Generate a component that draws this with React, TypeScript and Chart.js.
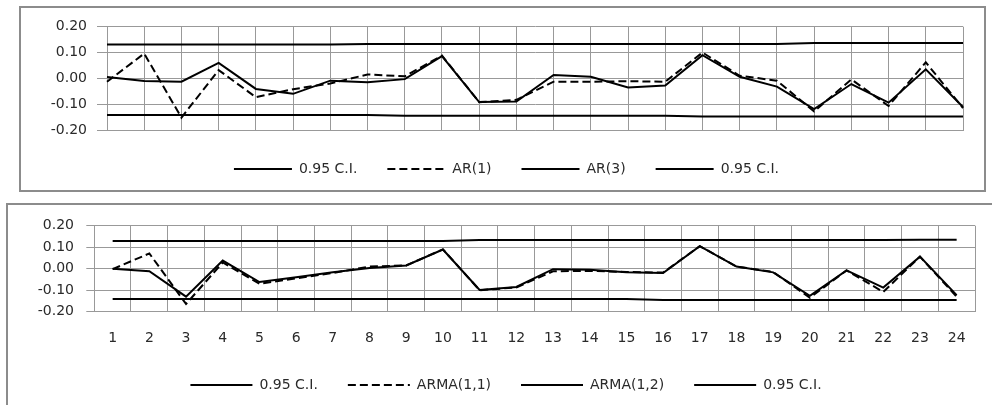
import React, { useEffect, useRef } from 'react';
import { Chart, registerables } from 'chart.js';

Chart.register(...registerables);

// ---------- data ----------
const lags = ['1','2','3','4','5','6','7','8','9','10','11','12','13','14','15','16','17','18','19','20','21','22','23','24'];

const topCiUpper = [0.131,0.131,0.131,0.131,0.131,0.131,0.131,0.133,0.133,0.133,0.133,0.133,0.133,0.133,0.133,0.133,0.133,0.133,0.133,0.137,0.137,0.137,0.137,0.137];
const topAr1 = [-0.013,0.096,-0.152,0.032,-0.073,-0.042,-0.02,0.015,0.008,0.088,-0.092,-0.083,-0.013,-0.013,-0.011,-0.013,0.1,0.01,-0.009,-0.128,-0.004,-0.107,0.062,-0.115];
const topAr3 = [0.005,-0.01,-0.013,0.06,-0.041,-0.06,-0.009,-0.015,-0.003,0.086,-0.092,-0.09,0.013,0.006,-0.035,-0.028,0.09,0.006,-0.032,-0.119,-0.022,-0.094,0.035,-0.111];
const topCiLower = [-0.142,-0.142,-0.142,-0.142,-0.142,-0.142,-0.142,-0.142,-0.145,-0.145,-0.145,-0.145,-0.145,-0.145,-0.145,-0.145,-0.148,-0.148,-0.148,-0.148,-0.148,-0.148,-0.148,-0.148];

const botCiUpper = [0.129,0.129,0.129,0.129,0.129,0.129,0.129,0.129,0.129,0.129,0.133,0.133,0.133,0.133,0.133,0.133,0.133,0.133,0.133,0.133,0.133,0.133,0.135,0.135];
const botArma11 = [-0.002,0.071,-0.164,0.029,-0.07,-0.045,-0.02,0.01,0.015,0.09,-0.1,-0.087,-0.012,-0.01,-0.015,-0.018,0.105,0.01,-0.015,-0.135,-0.008,-0.108,0.056,-0.13];
const botArma12 = [0.0,-0.012,-0.13,0.038,-0.062,-0.04,-0.017,0.003,0.015,0.089,-0.099,-0.085,-0.002,-0.005,-0.017,-0.02,0.105,0.01,-0.017,-0.126,-0.008,-0.088,0.056,-0.123];
const botCiLower = [-0.141,-0.141,-0.141,-0.141,-0.141,-0.141,-0.141,-0.141,-0.141,-0.141,-0.141,-0.141,-0.141,-0.141,-0.141,-0.145,-0.145,-0.145,-0.145,-0.145,-0.145,-0.145,-0.145,-0.145];

const topLabels = ['0.95 C.I.', 'AR(1)', 'AR(3)', '0.95 C.I.'];
const botLabels = ['0.95 C.I.', 'ARMA(1,1)', 'ARMA(1,2)', '0.95 C.I.'];

const yMin = -0.2;
const yMax = 0.2;
const yStep = 0.1;

// ---------- styling ----------
const FONT = "'DejaVu Sans', sans-serif";
const FSIZE = 14;
const TEXT = '#2a2a2a';
const GRID = '#999999';
const LINE = '#000000';

function makeDatasets(labels: string[], series: number[][], dashed: boolean[]) {
  return series.map((data, i) => ({
    label: labels[i],
    data: data.slice(),
    borderColor: LINE,
    backgroundColor: LINE,
    borderWidth: 2,
    borderDash: dashed[i] ? [8, 4] : [],
    pointRadius: 0,
    tension: 0,
    fill: false,
  }));
}

function legendLabels(chart: any) {
  const items = Chart.defaults.plugins.legend.labels.generateLabels(chart);
  return items.map((it: any) => {
    const ds = chart.data.datasets[it.datasetIndex];
    return { ...it, lineDash: ds.borderDash || [], lineWidth: 2, strokeStyle: LINE, fillStyle: LINE, pointStyle: 'line' };
  });
}

type Cfg = {
  which: 'top' | 'bot';
  showX: boolean;
  padding: { left: number; right: number; top: number; bottom: number };
  yWidth: number;
  xHeight: number;
  tickLength: number;
  yTickPad: number;
  xTickPad: number;
  legendPad: number;
  legendLine: number;
};

function buildConfig(c: Cfg): any {
  const datasets =
    c.which === 'top'
      ? makeDatasets(topLabels, [topCiUpper, topAr1, topAr3, topCiLower], [false, true, false, false])
      : makeDatasets(botLabels, [botCiUpper, botArma11, botArma12, botCiLower], [false, true, false, false]);
  const x: any = {
    type: 'category',
    offset: c.showX,
    grid: { display: true, color: GRID, lineWidth: 1, drawTicks: false, offset: c.showX },
    border: { display: true, color: GRID, width: 1 },
    ticks: { display: c.showX, color: TEXT, font: { family: FONT, size: FSIZE }, padding: c.xTickPad, maxRotation: 0, autoSkip: false },
    afterFit(s: any) { s.height = c.xHeight; },
  };
  const y: any = {
    type: 'linear',
    min: yMin,
    max: yMax,
    grid: { display: true, color: GRID, lineWidth: 1, drawTicks: true, tickLength: c.tickLength, tickColor: GRID },
    border: { display: true, color: GRID, width: 1 },
    ticks: {
      stepSize: yStep,
      color: TEXT,
      font: { family: FONT, size: FSIZE },
      padding: c.yTickPad,
      callback: (v: any) => (Math.abs(Number(v)) < 1e-9 ? '0.00' : Number(v).toFixed(2)),
    },
    afterFit(s: any) { s.width = c.yWidth; },
  };
  return {
    type: 'line',
    data: { labels: lags.slice(), datasets },
    options: {
      animation: false,
      responsive: false,
      maintainAspectRatio: false,
      devicePixelRatio: 1,
      layout: { padding: { ...c.padding } },
      scales: { x, y },
      plugins: {
        tooltip: { enabled: false },
        title: { display: false },
        legend: {
          display: true,
          position: 'bottom',
          align: 'center',
          labels: {
            usePointStyle: true,
            pointStyle: 'line',
            pointStyleWidth: c.legendLine,
            padding: c.legendPad,
            color: TEXT,
            font: { family: FONT, size: FSIZE },
            generateLabels: legendLabels,
          },
        },
      },
    },
  };
}

function ChartBox(props: { cfg: Cfg; width: number; height: number }) {
  const ref = useRef<HTMLCanvasElement | null>(null);
  useEffect(() => {
    if (!ref.current) return;
    const chart = new Chart(ref.current, buildConfig(props.cfg));
    return () => chart.destroy();
  }, []);
  return (
    <canvas
      ref={ref}
      width={props.width}
      height={props.height}
      style={{ display: 'block', width: props.width, height: props.height }}
    />
  );
}

const topCfg: Cfg = {
  which: 'top',
  showX: false,
  padding: { left: 29, right: 21, top: 18.7, bottom: 4 },
  yWidth: 57,
  xHeight: 2,
  tickLength: 10,
  yTickPad: 10,
  xTickPad: 0,
  legendPad: 30,
  legendLine: 58,
};

const botCfg: Cfg = {
  which: 'bot',
  showX: true,
  padding: { left: 29, right: 17, top: 19, bottom: 3 },
  yWidth: 57.3,
  xHeight: 36.3,
  tickLength: 8,
  yTickPad: 12.3,
  xTickPad: 18.2,
  legendPad: 30,
  legendLine: 62,
};

export default function App() {
  return (
    <div style={{ position: 'fixed', left: 0, top: 0, width: 992, height: 405, background: '#ffffff' }}>
      <div style={{ position: 'absolute', left: 19, top: 6, width: 963, height: 182, border: '2px solid #8c8c8c' }}>
        <ChartBox cfg={topCfg} width={963} height={182} />
      </div>
      <div
        style={{
          position: 'absolute',
          left: 6,
          top: 203,
          width: 984,
          height: 200,
          borderLeft: '2px solid #8c8c8c',
          borderTop: '2px solid #8c8c8c',
        }}
      >
        <ChartBox cfg={botCfg} width={984} height={200} />
      </div>
    </div>
  );
}
